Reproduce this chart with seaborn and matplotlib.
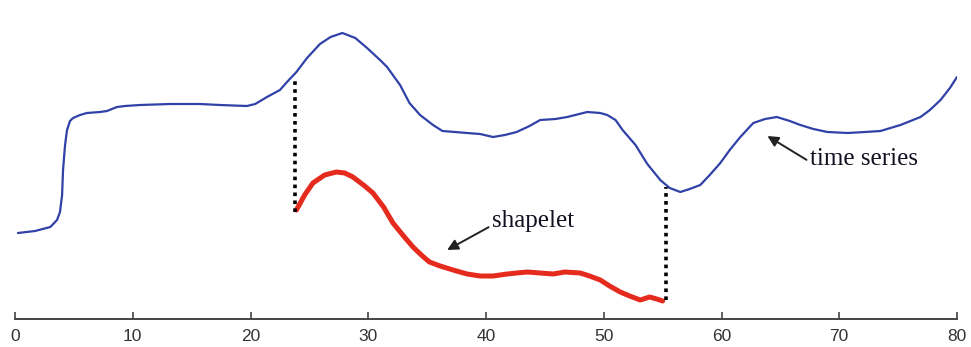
import matplotlib
matplotlib.use("Agg")
import matplotlib.pyplot as plt
import seaborn as sns
import pandas as pd

# time series (x, value)
ts_x = [0.25, 1.7, 3.0, 3.57, 3.82, 4.0, 4.08, 4.25, 4.42, 4.67, 4.93, 5.52, 6.11, 7.22, 7.81,
        8.66, 9.34, 10.6, 13.2, 15.7, 17.4, 19.7, 20.4, 21.4, 22.5, 23.1, 23.9, 24.8, 25.9, 26.8,
        27.8, 28.9, 29.9, 31.0, 31.6, 32.7, 33.5, 34.4, 35.5, 36.3, 38.4, 39.5, 40.6, 41.6, 42.6,
        43.7, 44.6, 45.9, 46.9, 48.6, 49.7, 50.3, 51.0, 51.6, 52.7, 53.7, 54.8, 55.6, 56.5, 57.3,
        58.2, 59.0, 59.9, 60.7, 61.6, 62.7, 63.7, 64.7, 65.8, 66.7, 67.8, 69.0, 70.7, 72.2, 73.5,
        75.2, 76.9, 77.7, 78.6, 79.4, 80.0]
ts_y = [0.83, 0.85, 0.89, 0.96, 1.04, 1.21, 1.46, 1.71, 1.86, 1.95, 1.98, 2.01, 2.03, 2.04, 2.05,
        2.09, 2.10, 2.11, 2.12, 2.12, 2.11, 2.10, 2.12, 2.19, 2.26, 2.34, 2.44, 2.58, 2.72, 2.79,
        2.83, 2.78, 2.68, 2.56, 2.49, 2.31, 2.13, 2.01, 1.91, 1.85, 1.83, 1.82, 1.79, 1.81, 1.84,
        1.90, 1.96, 1.97, 1.99, 2.04, 2.03, 2.01, 1.96, 1.86, 1.71, 1.52, 1.36, 1.28, 1.24, 1.27,
        1.31, 1.41, 1.53, 1.66, 1.79, 1.93, 1.97, 1.99, 1.95, 1.91, 1.87, 1.84, 1.83, 1.84, 1.85,
        1.91, 1.99, 2.06, 2.16, 2.28, 2.39]

# shapelet (x, value)
sh_x = [23.9, 24.6, 25.3, 26.3, 27.3, 28.0, 28.7, 29.7, 30.4, 31.3, 32.1, 33.0, 33.8, 34.6, 35.2,
        36.1, 37.2, 38.4, 39.5, 40.6, 41.8, 42.6, 43.5, 44.6, 45.7, 46.7, 48.0, 48.8, 49.7, 50.5,
        51.4, 52.2, 53.1, 53.9, 54.5, 55.0]
sh_y = [1.06, 1.21, 1.33, 1.41, 1.44, 1.43, 1.39, 1.30, 1.23, 1.09, 0.93, 0.80, 0.69, 0.60, 0.54,
        0.50, 0.46, 0.42, 0.40, 0.40, 0.42, 0.43, 0.44, 0.43, 0.42, 0.44, 0.43, 0.40, 0.36, 0.30,
        0.24, 0.20, 0.16, 0.19, 0.17, 0.15]

# dotted connectors: x, bottom, top
conn_x = [23.8, 55.3]
conn_lo = [1.04, 0.16]
conn_hi = [2.36, 1.29]

x_ticks = [0, 10, 20, 30, 40, 50, 60, 70, 80]

sns.set_style("white")

fig = plt.figure(figsize=(9.71, 3.47), dpi=100)
ax = fig.add_axes([15 / 971, 1 - 319 / 347, (957 - 15) / 971, 319 / 347])

ts_df = pd.DataFrame({"x": ts_x, "y": ts_y})
sh_df = pd.DataFrame({"x": sh_x, "y": sh_y})

sns.lineplot(data=ts_df, x="x", y="y", ax=ax, color="#3041a8", linewidth=1.6, sort=False)
sns.lineplot(data=sh_df, x="x", y="y", ax=ax, color="#e52a1e", linewidth=3.6, sort=False)

ax.vlines(conn_x, conn_lo, conn_hi, colors="black", linestyles=(0, (1, 1.2)), linewidth=2.6)

ax.annotate("shapelet", xy=(36.7, 0.66), xytext=(40.5, 0.89),
            fontsize=18, family="Liberation Serif", color="#111122", ha="left", va="baseline",
            arrowprops=dict(arrowstyle="-|>", color="#222222", lw=1.4,
                            shrinkA=0, shrinkB=0, mutation_scale=16,
                            relpos=(0, 0.3)))
ax.annotate("time series", xy=(63.9, 1.80), xytext=(67.5, 1.51),
            fontsize=18, family="Liberation Serif", color="#111122", ha="left", va="baseline",
            arrowprops=dict(arrowstyle="-|>", color="#222222", lw=1.4,
                            shrinkA=0, shrinkB=0, mutation_scale=16,
                            relpos=(-0.01, 0.4)))

ax.set_xlim(0, 80)
ax.set_ylim(-0.03, 3.16)
ax.set_xticks(x_ticks)
ax.set_xticklabels([str(t) for t in x_ticks], family="Liberation Sans", fontsize=12.5, color="#333333")
ax.set_yticks([])
ax.set_xlabel("")
ax.set_ylabel("")
for s in ["left", "top", "right"]:
    ax.spines[s].set_visible(False)
ax.spines["bottom"].set_color("#444444")
ax.spines["bottom"].set_linewidth(1.4)
ax.tick_params(axis="x", direction="in", length=5, width=1.2, color="#444444", pad=7, bottom=True)
ax.patch.set_alpha(0)

fig.savefig("out.png", dpi=100)
